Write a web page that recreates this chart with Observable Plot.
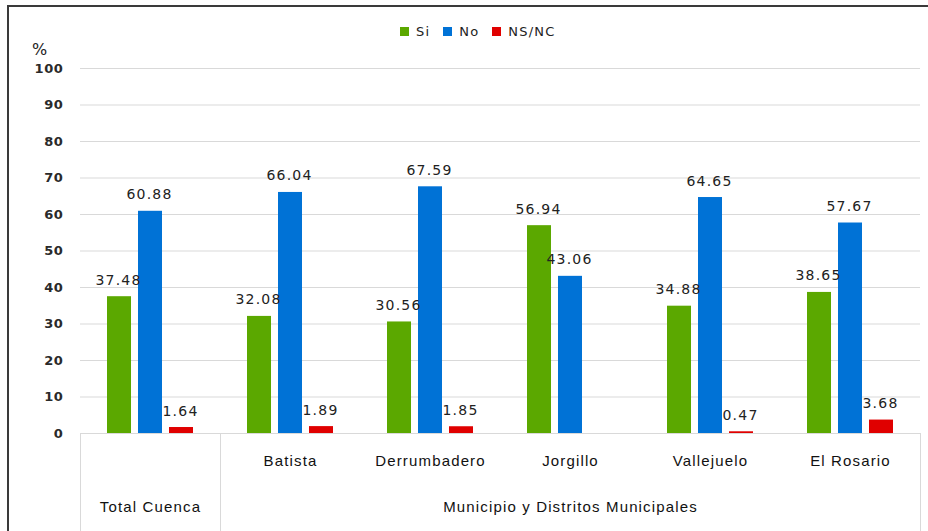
<!DOCTYPE html>
<html><head><meta charset="utf-8">
<script src="https://cdn.jsdelivr.net/npm/d3@7"></script>
<script src="https://cdn.jsdelivr.net/npm/@observablehq/plot@0.6"></script>
<style>
body{margin:0;background:#fff;}
#wrap{position:relative;width:928px;height:531px;overflow:hidden;font-family:"DejaVu Sans",sans-serif;}
#wrap svg{position:absolute;left:0;top:0;}
.line{position:absolute;background:#d9d9d9;}
.frame{position:absolute;background:#3a3a3a;}
#legend{position:absolute;top:24px;left:400px;display:flex;align-items:center;font-size:13px;letter-spacing:1.2px;color:#222;}
#legend .sw{display:inline-block;width:9px;height:9px;margin-right:7px;}
#legend .it{display:flex;align-items:center;margin-right:13px;}
#pct{position:absolute;left:32px;top:40px;font-size:16px;color:#222;}
</style></head><body><div id="wrap"></div>
<script>
const categories = ["Total Cuenca","Batista","Derrumbadero","Jorgillo","Vallejuelo","El Rosario"];
const innerLabels = ["","Batista","Derrumbadero","Jorgillo","Vallejuelo","El Rosario"];
const outerLabels = ["Total Cuenca","Municipio y Distritos Municipales"];
const outerAnchor = ["Total Cuenca","Jorgillo"]; // middle category of each group
const series = ["Si","No","NS/NC"];
const si   = [37.48,32.08,30.56,56.94,34.88,38.65];
const no   = [60.88,66.04,67.59,43.06,64.65,57.67];
const nsnc = [1.64,1.89,1.85,null,0.47,3.68];
const colors = ["#5ba800","#0072d6","#e00000"];
const yTicks = [0,10,20,30,40,50,60,70,80,90,100];

const values = [si, no, nsnc];
const data = [];
categories.forEach((c,i)=>series.forEach((s,j)=>{
  if (values[j][i] != null) data.push({cat:c, series:s, value:values[j][i]});
}));

const plot = Plot.plot({
  width: 928, height: 531,
  marginTop: 68, marginBottom: 98, marginLeft: 80, marginRight: 8,
  style: {fontFamily: '"DejaVu Sans", sans-serif', background: "transparent", color: "#222"},
  fx: {domain: categories, padding: 0, axis: null},
  x: {domain: series, paddingInner: 0.23, paddingOuter: 0.87, axis: null},
  y: {domain: [0,100], axis: null},
  color: {domain: series, range: colors},
  marks: [
    Plot.ruleY(yTicks, {stroke: "#d9d9d9", strokeWidth: 1, strokeOpacity: 1}),
    Plot.axisY({ticks: yTicks, tickSize: 0, tickPadding: 17, label: null, fontSize: 13, fontWeight: "bold", fill: "#2a2a2a"}),
    Plot.barY(data, {fx: "cat", x: "series", y: "value", fill: "series"}),
    Plot.text(data, {fx: "cat", x: "series", y: "value", text: d => d.value.toFixed(2),
      lineAnchor: "bottom", dy: -12, dx: -1, fontSize: 14, fill: "#222"}),
    Plot.text(categories.map((c,i)=>({cat:c, label:innerLabels[i]})).filter(d=>d.label),
      {fx: "cat", text: "label", frameAnchor: "bottom", dy: 32, fontSize: 15,
       fontFamily: '"Liberation Sans", sans-serif', fill: "#111"}),
    Plot.text(outerLabels.map((l,i)=>({cat:outerAnchor[i], label:l})),
      {fx: "cat", text: "label", frameAnchor: "bottom", dy: 78, fontSize: 15,
       fontFamily: '"Liberation Sans", sans-serif', fill: "#111"})
  ]
});
const wrap = document.getElementById("wrap");
wrap.appendChild(plot);
// letter spacing to match the wider reference typography
d3.select(plot).selectAll('g[font-family*="Liberation"]').attr("letter-spacing", "1.15px");
d3.select(plot).selectAll('g[font-size="14"]').attr("letter-spacing", "1.2px");
d3.select(plot).selectAll('g[font-weight="bold"]').attr("letter-spacing", "0.6px");

// table & frame lines
function div(cls, l, t, w, h){const d=document.createElement("div");d.className=cls;Object.assign(d.style,{left:l+"px",top:t+"px",width:w+"px",height:h+"px"});wrap.appendChild(d);}
div("line", 80, 433, 1, 98);
div("line", 220, 433, 1, 98);
div("line", 920, 433, 1, 98);
div("frame", 7, 5, 921, 2);
div("frame", 7, 5, 2, 526);

const leg = document.createElement("div"); leg.id="legend";
series.forEach((s,i)=>{const it=document.createElement("span");it.className="it";
  it.innerHTML=`<span class="sw" style="background:${colors[i]}"></span>${s}`;leg.appendChild(it);});
wrap.appendChild(leg);
const pct=document.createElement("div");pct.id="pct";pct.textContent="%";wrap.appendChild(pct);
</script></body></html>
